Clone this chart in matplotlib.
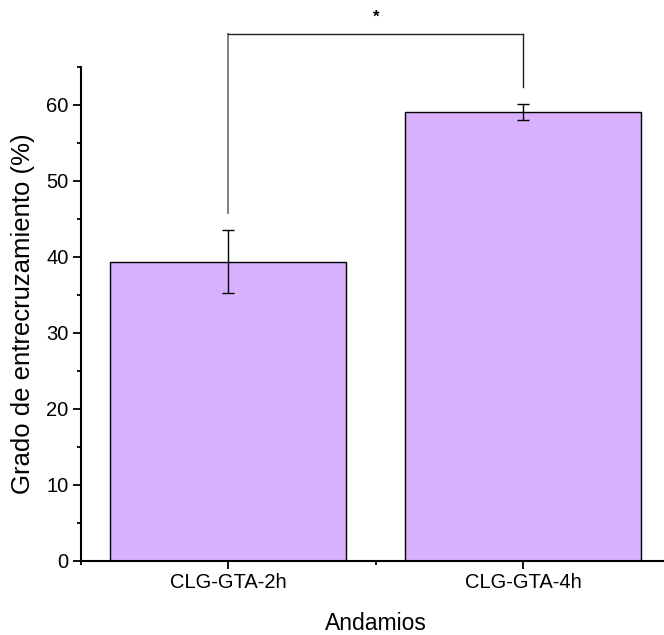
import matplotlib
matplotlib.use("Agg")
import matplotlib.pyplot as plt
from matplotlib.ticker import MultipleLocator

plt.rcParams['font.family'] = ['Liberation Sans', 'DejaVu Sans']

categories = ["CLG-GTA-2h", "CLG-GTA-4h"]
values = [39.4, 59.05]
errors = [4.15, 1.05]
sig_label = "*"
sig_height = 69.4
sig_left_leg = 45.8
sig_right_leg = 62.4

fig = plt.figure(figsize=(6.64, 6.35), dpi=100)
ax = fig.add_axes([81/664, 74/635, (670.5-81)/664, (561-67)/635])

x = [1, 2]
ax.bar(x, values, width=0.8, color='#D8B0FE', edgecolor='black', linewidth=1.0, zorder=2)
ax.errorbar(x, values, yerr=errors, fmt='none', ecolor='black', elinewidth=1.0,
            capsize=4.3, capthick=1.0, zorder=3)

ax.set_xlim(0.5, 2.5)
ax.set_ylim(0, 65)
ax.set_xticks(x)
ax.set_xticklabels(categories)
ax.xaxis.set_minor_locator(MultipleLocator(0.5))
ax.yaxis.set_major_locator(MultipleLocator(10))
ax.yaxis.set_minor_locator(MultipleLocator(5))

for s in ['top', 'right']:
    ax.spines[s].set_visible(False)
for s in ['left', 'bottom']:
    ax.spines[s].set_linewidth(1.5)

ax.tick_params(which='major', direction='out', length=6, width=1.3, labelsize=14.5, pad=3)
ax.tick_params(which='minor', direction='out', length=3, width=1.3)
ax.xaxis.set_minor_formatter(plt.NullFormatter())

ax.set_xlabel("Andamios", fontsize=16.5, labelpad=14)
ax.set_ylabel("Grado de entrecruzamiento (%)", fontsize=18.5, labelpad=8)

# significance bracket
ax.plot([x[0], x[0]], [sig_left_leg, sig_height], color='#808080', lw=1.4, clip_on=False, zorder=4)
ax.plot([x[0], x[1]], [sig_height, sig_height], color='#222222', lw=1.0, clip_on=False, zorder=4)
ax.plot([x[1], x[1]], [sig_height, sig_right_leg], color='#222222', lw=1.0, clip_on=False, zorder=4)
ax.text((x[0]+x[1])/2, sig_height + 1.2, sig_label, ha='center', va='bottom', fontsize=12,
        fontweight='bold')

fig.savefig("out.png", dpi=100)
